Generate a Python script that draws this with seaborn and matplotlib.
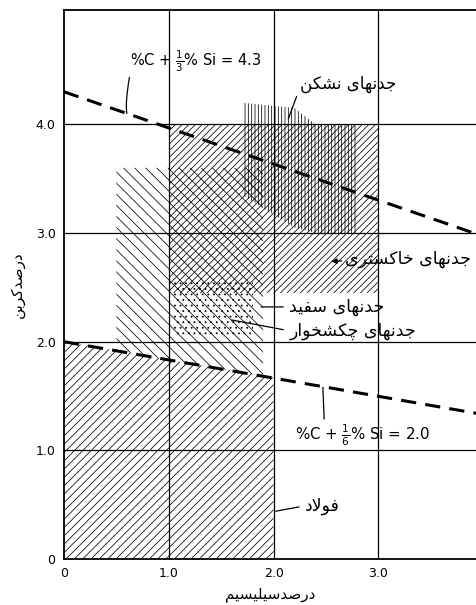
import matplotlib
matplotlib.use("Agg")
import matplotlib.pyplot as plt
import seaborn as sns
import numpy as np

# ---------------- data ----------------
si_ticks = [0, 1.0, 2.0, 3.0]
si_tick_labels = ["0", "1.0", "2.0", "3.0"]
c_ticks = [0, 1.0, 2.0, 3.0, 4.0]
c_tick_labels = ["0", "1.0", "2.0", "3.0", "4.0"]

# boundary lines  %C + 1/3 %Si = 4.3  and  %C + 1/6 %Si = 2.0
line_si = [0.0, 3.94]
line_upper_c = [4.30, 2.99]
line_lower_c = [2.00, 1.34]

# regions (Si range, lower / upper carbon)
steel_si = [0.0, 2.0]
steel_c_low = [0.0, 0.0]
steel_c_high = [2.00, 1.67]

white_si = [0.5, 1.9]
white_c_low = [1.92, 1.68]
white_c_high = [3.6, 3.6]

malleable_si = [1.05, 1.8]
malleable_c_low = [2.05, 2.05]
malleable_c_high = [2.55, 2.55]

gray_si = [1.0, 3.0]
gray_c_low = [2.45, 2.45]
gray_c_high = [4.0, 4.0]

ductile_si = [1.7, 2.2, 2.4, 2.8]
ductile_c_low = [3.35, 3.05, 3.0, 3.0]
ductile_c_high = [4.2, 4.15, 4.0, 4.0]

label_steel = "فولاد"
label_white = "جدنهای سفید"
label_malleable = "جدنهای چکشخوار"
label_gray = "جدنهای خاکستری"
label_ductile = "جدنهای نشکن"
xlabel = "درصدسیلیسیم"
ylabel = "درصدکربن"

# ---------------- minimal Persian shaping (presentation forms, visual order) -------
AR_FORMS = {
    'ا': ('\uFE8D', '\uFE8E', None, None),
    'ب': ('\uFE8F', '\uFE90', '\uFE91', '\uFE92'),
    'ت': ('\uFE95', '\uFE96', '\uFE97', '\uFE98'),
    'ج': ('\uFE9D', '\uFE9E', '\uFE9F', '\uFEA0'),
    'چ': ('\uFB7A', '\uFB7B', '\uFB7C', '\uFB7D'),
    'خ': ('\uFEA5', '\uFEA6', '\uFEA7', '\uFEA8'),
    'د': ('\uFEA9', '\uFEAA', None, None),
    'ر': ('\uFEAD', '\uFEAE', None, None),
    'س': ('\uFEB1', '\uFEB2', '\uFEB3', '\uFEB4'),
    'ش': ('\uFEB5', '\uFEB6', '\uFEB7', '\uFEB8'),
    'ص': ('\uFEB9', '\uFEBA', '\uFEBB', '\uFEBC'),
    'ف': ('\uFED1', '\uFED2', '\uFED3', '\uFED4'),
    'ک': ('\uFB8E', '\uFB8F', '\uFB90', '\uFB91'),
    'ل': ('\uFEDD', '\uFEDE', '\uFEDF', '\uFEE0'),
    'م': ('\uFEE1', '\uFEE2', '\uFEE3', '\uFEE4'),
    'ن': ('\uFEE5', '\uFEE6', '\uFEE7', '\uFEE8'),
    'ه': ('\uFEE9', '\uFEEA', '\uFEEB', '\uFEEC'),
    'و': ('\uFEED', '\uFEEE', None, None),
    'ی': ('\uFBFC', '\uFBFD', '\uFBFE', '\uFBFF'),
}


def shape_fa(text):
    out = []
    chars = list(text)
    i = 0
    n = len(chars)
    while i < n:
        c = chars[i]
        if c not in AR_FORMS:
            out.append(c)
            i += 1
            continue
        prev = chars[i - 1] if i > 0 else None
        joins_prev = prev in AR_FORMS and AR_FORMS[prev][2] is not None
        if c == 'ل' and i + 1 < n and chars[i + 1] == 'ا':
            out.append('\uFEFC' if joins_prev else '\uFEFB')
            i += 2
            continue
        nxt = chars[i + 1] if i + 1 < n else None
        iso, fin, ini, med = AR_FORMS[c]
        joins_next = nxt in AR_FORMS and ini is not None
        if joins_prev and joins_next:
            g = med
        elif joins_prev:
            g = fin
        elif joins_next:
            g = ini
        else:
            g = iso
        out.append(g)
        i += 1
    return ''.join(reversed(out))


# ---------------- figure ----------------
sns.set_style("white")
plt.rcParams['font.family'] = ['DejaVu Sans']
plt.rcParams['hatch.linewidth'] = 0.55
plt.rcParams['hatch.color'] = 'black'
plt.rcParams['text.color'] = 'black'
plt.rcParams['axes.labelcolor'] = 'black'
plt.rcParams['xtick.color'] = 'black'
plt.rcParams['ytick.color'] = 'black'

fig = plt.figure(figsize=(4.77, 6.05), dpi=100)
ax = fig.add_axes([0.134, 0.076, 0.866, 0.907])
ax.set_xlim(0, 3.94)
ax.set_ylim(0, 5.05)

# grid
for v in si_ticks[1:]:
    ax.axvline(v, color='black', lw=0.9, zorder=1)
for v in c_ticks[1:]:
    ax.axhline(v, color='black', lw=0.9, zorder=1)

def region(si, lo, hi, hatch):
    ax.fill_between(si, lo, hi, facecolor='none', edgecolor='black',
                    hatch=hatch, linewidth=0, zorder=2)

region(steel_si, steel_c_low, steel_c_high, '////')
region(white_si, white_c_low, white_c_high, '\\\\\\')
region(malleable_si, malleable_c_low, malleable_c_high, '...')
region(gray_si, gray_c_low, gray_c_high, '/////')
region(ductile_si, ductile_c_low, ductile_c_high, '|||||')

# boundary dashed lines
for cvals in (line_upper_c, line_lower_c):
    sns.lineplot(x=line_si, y=cvals, ax=ax, color='black', lw=2.2, zorder=4)
    ax.lines[-1].set_dashes((5, 3))

# spines / ticks
for s in ('left', 'bottom', 'top'):
    ax.spines[s].set_color('black')
    ax.spines[s].set_linewidth(1.3)
ax.spines['right'].set_visible(False)
ax.set_xticks(si_ticks)
ax.set_xticklabels(si_tick_labels, fontsize=9)
ax.set_yticks(c_ticks)
ax.set_yticklabels(c_tick_labels, fontsize=9)
ax.tick_params(length=0, pad=6, colors='black')
ax.set_xlabel(shape_fa(xlabel), fontsize=11, labelpad=5, color='black')
ax.set_ylabel(shape_fa(ylabel), fontsize=11, labelpad=8, color='black')

# formula annotations
ax.annotate(r'%C + $\frac{1}{3}$% Si = 4.3', xy=(0.60, 4.10), xytext=(0.63, 4.58),
            fontsize=10.5, va='center', ha='left', color='black',
            arrowprops=dict(arrowstyle='-', color='black', lw=0.9,
                            shrinkA=0, shrinkB=0,
                            connectionstyle='angle3,angleA=80,angleB=100',
                            relpos=(0.0, 0.0)))
ax.annotate(r'%C + $\frac{1}{6}$% Si = 2.0', xy=(2.47, 1.58), xytext=(2.2, 1.14),
            fontsize=10.8, va='center', ha='left', color='black',
            arrowprops=dict(arrowstyle='-', color='black', lw=0.9,
                            shrinkA=0, shrinkB=0, relpos=(0.22, 1.0)))

# region labels
ax.annotate(shape_fa(label_ductile), xy=(2.14, 4.05), xytext=(2.25, 4.37),
            fontsize=12, va='center', ha='left', color='black',
            arrowprops=dict(arrowstyle='-', color='black', lw=0.9,
                            shrinkA=0, shrinkB=0, relpos=(0.0, 0.3)))
ax.annotate(shape_fa(label_gray), xy=(2.55, 2.74), xytext=(2.68, 2.76),
            fontsize=12.5, va='center', ha='left', color='black',
            arrowprops=dict(arrowstyle='-|>', color='black', lw=0.9,
                            mutation_scale=8, shrinkA=0, shrinkB=0,
                            relpos=(0.0, 0.4)))
ax.annotate(shape_fa(label_white), xy=(1.88, 2.32), xytext=(2.15, 2.32),
            fontsize=12.5, va='center', ha='left', color='black',
            arrowprops=dict(arrowstyle='-', color='black', lw=0.9,
                            shrinkA=2, shrinkB=0, relpos=(0.0, 0.5)))
ax.annotate(shape_fa(label_malleable), xy=(1.6, 2.2), xytext=(2.15, 2.10),
            fontsize=12.5, va='center', ha='left', color='black',
            arrowprops=dict(arrowstyle='-', color='black', lw=0.9,
                            shrinkA=2, shrinkB=0, relpos=(0.0, 0.5)))
ax.annotate(shape_fa(label_steel), xy=(2.02, 0.44), xytext=(2.3, 0.49),
            fontsize=12.5, va='center', ha='left', color='black',
            arrowprops=dict(arrowstyle='-', color='black', lw=0.9,
                            shrinkA=2, shrinkB=0, relpos=(0.0, 0.5)))

fig.savefig("out.png", dpi=100)
